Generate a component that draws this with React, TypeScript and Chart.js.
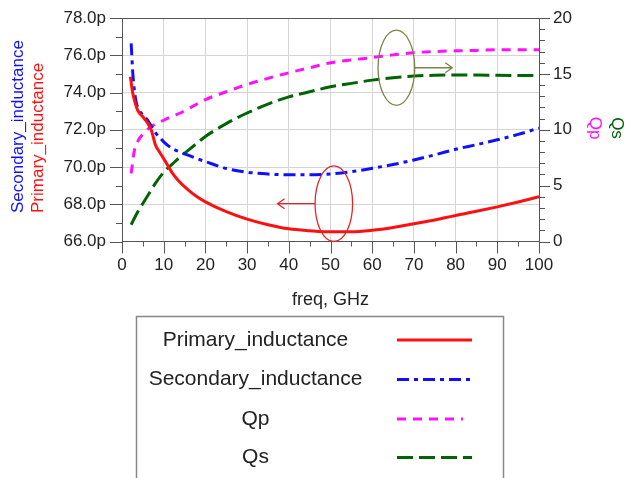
import React, { useEffect, useRef } from 'react';
import { Chart, registerables } from 'chart.js';
Chart.register(...registerables);

// ---- data ----
const freqP = [2, 2.6, 3.5, 4, 5, 6, 7, 8, 9, 10, 12, 14, 16, 18, 20, 25, 30, 35, 40, 45, 50, 55, 60, 65, 70, 75, 80, 85, 90, 95, 100];
const primary = [74.85, 73.95, 73.2, 72.95, 72.7, 72.4, 72.0, 71.2, 70.8, 70.45, 69.7, 69.15, 68.75, 68.4, 68.13, 67.6, 67.2, 66.9, 66.68, 66.58, 66.52, 66.52, 66.6, 66.75, 66.95, 67.15, 67.4, 67.62, 67.86, 68.12, 68.4];

const freqS = [2.2, 2.6, 3.3, 4, 5, 6, 7, 8, 9, 10, 12, 14, 16, 18, 20, 25, 30, 35, 40, 45, 50, 55, 60, 65, 70, 75, 80, 85, 90, 95, 100];
const secondary = [76.64, 75.0, 73.6, 73.1, 72.8, 72.55, 72.2, 71.85, 71.6, 71.35, 71.0, 70.8, 70.62, 70.45, 70.29, 69.92, 69.72, 69.62, 69.58, 69.58, 69.63, 69.75, 69.93, 70.13, 70.38, 70.65, 70.95, 71.2, 71.46, 71.75, 72.09];

const freqQ = [2.2, 3, 4, 5, 6, 8, 10, 12, 14, 16, 18, 20, 25, 30, 35, 40, 45, 50, 55, 60, 65, 70, 75, 80, 85, 90, 95, 100];
const qp = [6.1, 8.2, 9.1, 9.6, 10.0, 10.5, 10.85, 11.2, 11.5, 11.9, 12.3, 12.7, 13.4, 14.05, 14.6, 15.1, 15.55, 16.0, 16.25, 16.46, 16.7, 16.9, 17.0, 17.06, 17.1, 17.15, 17.15, 17.15];
const qs = [1.5, 2.1, 2.8, 3.4, 4.0, 5.2, 6.2, 6.9, 7.6, 8.2, 8.8, 9.4, 10.55, 11.5, 12.3, 12.94, 13.4, 13.84, 14.15, 14.44, 14.65, 14.8, 14.88, 14.9, 14.9, 14.87, 14.86, 14.86];

const seriesNames = ['Primary_inductance', 'Secondary_inductance', 'Qp', 'Qs'];
const seriesColors = ['#ff1010', '#1010ff', '#ff10ff', '#006400'];
const seriesDash: number[][] = [[], [12, 5, 4, 5], [9, 7], [16, 6]];

const xTicks = { min: 0, max: 100, step: 10, minor: 5 };
const yLeftTicks = { min: 66, max: 78, step: 2, minor: 1 };
const yRightTicks = { min: 0, max: 20, step: 5, minor: 1 };

// annotations (data coordinates)
const leftMarker = { x: 50.8, y: 68.03, rx: 4.5, ry: 2.03, arrowTo: 37.3 };
const rightMarker = { x: 65.8, y: 15.55, rx: 4.4, ry: 3.36, arrowTo: 79.2 };

const FONT = '"Liberation Sans", Arial, sans-serif';
const AXIS = '#555';

const pts = (xs: number[], ys: number[]) => xs.map((x, i) => ({ x, y: ys[i] }));

const decorPlugin = {
  id: 'decor',
  afterDraw(chart: any) {
    const ctx = chart.ctx as CanvasRenderingContext2D;
    const { x, y, y1 } = chart.scales;
    const ca = chart.chartArea;
    ctx.save();
    // top border
    ctx.strokeStyle = AXIS;
    ctx.lineWidth = 1;
    ctx.beginPath();
    ctx.moveTo(ca.left, Math.round(ca.top) + 0.5);
    ctx.lineTo(ca.right, Math.round(ca.top) + 0.5);
    ctx.stroke();
    // tick marks
    ctx.beginPath();
    for (let v = xTicks.min; v <= xTicks.max + 1e-9; v += xTicks.minor) {
      const px = Math.round(x.getPixelForValue(v)) + 0.5;
      const len = Math.abs(v % xTicks.step) < 1e-9 ? 12 : 5;
      ctx.moveTo(px, ca.bottom);
      ctx.lineTo(px, ca.bottom + len);
    }
    for (let v = yLeftTicks.min; v <= yLeftTicks.max + 1e-9; v += yLeftTicks.minor) {
      const py = Math.round(y.getPixelForValue(v)) + 0.5;
      const len = Math.abs((v - yLeftTicks.min) % yLeftTicks.step) < 1e-9 ? 12 : 6;
      ctx.moveTo(ca.left, py);
      ctx.lineTo(ca.left - len, py);
    }
    for (let v = yRightTicks.min; v <= yRightTicks.max + 1e-9; v += yRightTicks.minor) {
      const py = Math.round(y1.getPixelForValue(v)) + 0.5;
      const len = Math.abs(v % yRightTicks.step) < 1e-9 ? 11 : 6;
      ctx.moveTo(ca.right, py);
      ctx.lineTo(ca.right + len, py);
    }
    ctx.stroke();

    // annotations
    const drawMarker = (m: any, ys: any, color: string, dir: number) => {
      const cx = x.getPixelForValue(m.x);
      const cy = ys.getPixelForValue(m.y);
      const rx = Math.abs(x.getPixelForValue(m.x + m.rx) - cx);
      const ry = Math.abs(ys.getPixelForValue(m.y + m.ry) - cy);
      ctx.strokeStyle = color;
      ctx.lineWidth = 1.3;
      ctx.beginPath();
      ctx.ellipse(cx, cy, rx, ry, 0, 0, Math.PI * 2);
      ctx.stroke();
      const start = cx + dir * rx;
      const end = x.getPixelForValue(m.arrowTo);
      ctx.beginPath();
      ctx.moveTo(start, cy);
      ctx.lineTo(end, cy);
      ctx.moveTo(end - dir * 7, cy - 5);
      ctx.lineTo(end, cy);
      ctx.lineTo(end - dir * 7, cy + 5);
      ctx.stroke();
    };
    drawMarker(leftMarker, y, '#e02828', -1);
    drawMarker(rightMarker, y1, '#80804a', 1);

    // axis titles
    ctx.font = `17px ${FONT}`;
    ctx.textBaseline = 'middle';
    ctx.save();
    ctx.translate(18.5, 213);
    ctx.rotate(-Math.PI / 2);
    ctx.textAlign = 'left';
    ctx.fillStyle = seriesColors[1];
    ctx.fillText(seriesNames[1], 0, 0);
    ctx.restore();
    ctx.save();
    ctx.translate(38.5, 213);
    ctx.rotate(-Math.PI / 2);
    ctx.textAlign = 'left';
    ctx.fillStyle = seriesColors[0];
    ctx.fillText(seriesNames[0], 0, 0);
    ctx.restore();
    ctx.save();
    ctx.translate(595, 128);
    ctx.rotate(Math.PI / 2);
    ctx.textAlign = 'center';
    ctx.fillStyle = seriesColors[2];
    ctx.fillText(seriesNames[2], 0, 0);
    ctx.restore();
    ctx.save();
    ctx.translate(617, 128);
    ctx.rotate(Math.PI / 2);
    ctx.textAlign = 'center';
    ctx.fillStyle = seriesColors[3];
    ctx.fillText(seriesNames[3], 0, 0);
    ctx.restore();

    ctx.font = `18px ${FONT}`;
    ctx.fillStyle = '#222';
    ctx.textAlign = 'center';
    ctx.fillText('freq, GHz', (ca.left + ca.right) / 2, 300);

    // legend box
    ctx.strokeStyle = '#888';
    ctx.lineWidth = 1.5;
    ctx.strokeRect(136.5, 316.5, 367, 200);
    const rows = [340, 379.5, 419, 457.5];
    ctx.font = `21px ${FONT}`;
    seriesNames.forEach((name, i) => {
      ctx.fillStyle = '#222';
      ctx.textAlign = 'center';
      ctx.textBaseline = 'middle';
      ctx.fillText(name, 255.5, rows[i]);
      ctx.strokeStyle = seriesColors[i];
      ctx.lineWidth = 3;
      ctx.setLineDash(seriesDash[i]);
      ctx.beginPath();
      ctx.moveTo(397, rows[i]);
      ctx.lineTo(i === 2 ? 463 : 472, rows[i]);
      ctx.stroke();
      ctx.setLineDash([]);
    });
    ctx.restore();
  },
};

export default function App() {
  const ref = useRef<HTMLCanvasElement>(null);
  useEffect(() => {
    document.body.style.margin = '0';
    const datasets = [
      { data: pts(freqP, primary), yAxisID: 'y' },
      { data: pts(freqS, secondary), yAxisID: 'y' },
      { data: pts(freqQ, qp), yAxisID: 'y1' },
      { data: pts(freqQ, qs), yAxisID: 'y1' },
    ].map((d, i) => ({
      ...d,
      label: seriesNames[i],
      borderColor: seriesColors[i],
      borderDash: seriesDash[i],
      borderWidth: 3,
      pointRadius: 0,
      fill: false,
      cubicInterpolationMode: 'monotone' as const,
    }));
    const tickFont = { family: FONT, size: 17 };
    const chart = new Chart(ref.current!, {
      type: 'line',
      data: { datasets },
      plugins: [decorPlugin],
      options: {
        animation: false,
        responsive: false,
        layout: { padding: { top: 18, left: 0, right: 0, bottom: 0 } },
        plugins: { legend: { display: false }, tooltip: { enabled: false } },
        scales: {
          x: {
            type: 'linear',
            min: xTicks.min,
            max: xTicks.max,
            afterFit: (s: any) => { s.height = 236.5; s.paddingLeft = 0; s.paddingRight = 0; },
            ticks: { stepSize: xTicks.step, font: tickFont, color: '#222', padding: 14, maxRotation: 0 },
            grid: { color: '#d4d4d4', drawTicks: false },
            border: { color: AXIS },
          },
          y: {
            type: 'linear',
            position: 'left',
            min: yLeftTicks.min,
            max: yLeftTicks.max,
            afterFit: (s: any) => { s.width = 122; s.paddingTop = 0; s.paddingBottom = 0; },
            ticks: { stepSize: yLeftTicks.step, font: tickFont, color: '#222', padding: 16, callback: (v: any) => Number(v).toFixed(1) + 'p' },
            grid: { color: '#d4d4d4', drawTicks: false },
            border: { color: AXIS },
          },
          y1: {
            type: 'linear',
            position: 'right',
            min: yRightTicks.min,
            max: yRightTicks.max,
            afterFit: (s: any) => { s.width = 93; s.paddingTop = 0; s.paddingBottom = 0; },
            ticks: { stepSize: yRightTicks.step, font: tickFont, color: '#222', padding: 14 },
            grid: { display: false, drawTicks: false },
            border: { color: AXIS },
          },
        },
      },
    });
    return () => chart.destroy();
  }, []);
  return (
    <div style={{ width: 632, height: 478, background: '#fff' }}>
      <canvas ref={ref} width={632} height={478} />
    </div>
  );
}
